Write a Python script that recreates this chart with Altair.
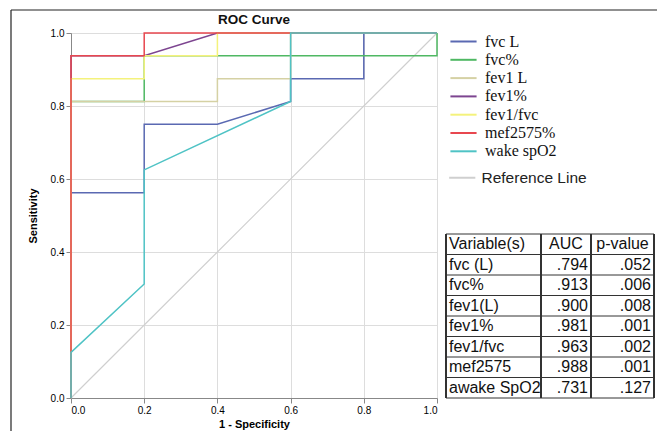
import altair as alt
import pandas as pd

# ---------------- data ----------------
chart_title = "ROC Curve"
series = ["fvc L", "fvc%", "fev1 L", "fev1%", "fev1/fvc", "mef2575%", "wake spO2"]
colors = ["#5a69b2", "#4fb863", "#d5d1a4", "#7d4590", "#f4f27c", "#e8474f", "#4fc3c5"]

fvcL_x = [0, 0, 0.2, 0.2, 0.4, 0.6, 0.6, 0.8, 0.8, 1.0]
fvcL_y = [0, 0.5625, 0.5625, 0.75, 0.75, 0.8125, 0.875, 0.875, 1.0, 1.0]
fvcp_x = [0, 0, 0.2, 0.2, 1.0, 1.0]
fvcp_y = [0, 0.8125, 0.8125, 0.9375, 0.9375, 1.0]
fev1L_x = [0, 0, 0.4, 0.4, 0.6, 0.6, 1.0]
fev1L_y = [0, 0.8125, 0.8125, 0.875, 0.875, 1.0, 1.0]
fev1p_x = [0, 0, 0.2, 0.4, 1.0]
fev1p_y = [0, 0.9375, 0.9375, 1.0, 1.0]
ratio_x = [0, 0, 0.2, 0.2, 0.4, 0.4, 1.0]
ratio_y = [0, 0.875, 0.875, 0.9375, 0.9375, 1.0, 1.0]
mef_x = [0, 0, 0.2, 0.2, 1.0]
mef_y = [0, 0.9375, 0.9375, 1.0, 1.0]
spo2_x = [0, 0, 0.2, 0.2, 0.6, 0.6, 1.0]
spo2_y = [0, 0.125, 0.3125, 0.625, 0.8125, 1.0, 1.0]

ref_x = [0, 1]
ref_y = [0, 1]

tick_values = [0.0, 0.2, 0.4, 0.6, 0.8, 1.0]

table_header = ["Variable(s)", "AUC", "p-value"]
table_vars = ["fvc (L)", "fvc%", "fev1(L)", "fev1%", "fev1/fvc", "mef2575", "awake SpO2"]
table_auc = [".794", ".913", ".900", ".981", ".963", ".988", ".731"]
table_p = [".052", ".006", ".008", ".001", ".002", ".001", ".127"]

# ---------------- frames ----------------
curves = [(fvcL_x, fvcL_y), (fvcp_x, fvcp_y), (fev1L_x, fev1L_y), (fev1p_x, fev1p_y),
          (ratio_x, ratio_y), (mef_x, mef_y), (spo2_x, spo2_y)]
rows = []
for name, (xs, ys) in zip(series, curves):
    for i, (xv, yv) in enumerate(zip(xs, ys)):
        rows.append({"series": name, "idx": i, "fpr": xv, "tpr": yv})
df = pd.DataFrame(rows)
ref_df = pd.DataFrame({"fpr": ref_x, "tpr": ref_y, "label": ["Reference Line"] * 2})

W, H = 366, 365
SANS = "Liberation Sans"
SERIF = "Liberation Serif"

# legend stroke: a custom horizontal path, long relative to its nominal symbol size
LINE_PATH = "M-6,0H6"
SYM_SIZE = 19

xscale = alt.Scale(domain=[0, 1], nice=False, zero=False)
yscale = alt.Scale(domain=[0, 1], nice=False, zero=False)

ref = alt.Chart(ref_df).mark_line(strokeWidth=1.2).encode(
    x=alt.X("fpr:Q", scale=xscale,
            axis=alt.Axis(values=tick_values, format=".1f", title="1 - Specificity",
                          titlePadding=3)),
    y=alt.Y("tpr:Q", scale=yscale,
            axis=alt.Axis(values=tick_values, format=".1f", title="Sensitivity",
                          titlePadding=12)),
    color=alt.Color("label:N",
                    scale=alt.Scale(domain=["Reference Line"], range=["#cfcfcf"]),
                    legend=alt.Legend(title=None, orient="none", legendX=383.5, legendY=137,
                                      symbolType=LINE_PATH, symbolSize=SYM_SIZE,
                                      symbolStrokeWidth=2, labelFont=SANS,
                                      labelFontSize=15.5, labelColor="#222",
                                      labelOffset=11.5, padding=0)),
)

lines = alt.Chart(df).mark_line(strokeWidth=1.5).encode(
    x=alt.X("fpr:Q", scale=xscale),
    y=alt.Y("tpr:Q", scale=yscale),
    color=alt.Color("series:N",
                    scale=alt.Scale(domain=series, range=colors),
                    sort=series,
                    legend=alt.Legend(title=None, orient="none", legendX=384.5, legendY=0.5,
                                      symbolType=LINE_PATH, symbolSize=SYM_SIZE,
                                      symbolStrokeWidth=2, labelFont=SERIF,
                                      labelFontSize=16, labelColor="#111",
                                      labelOffset=13.5, rowPadding=2.3, padding=0)),
    order="idx:Q",
)

roc = alt.layer(ref, lines).resolve_scale(color="independent")

# ---------------- table ----------------
n_rows = len(table_vars) + 1
tscale = alt.Scale(domain=[0, n_rows], range=[201, 365], nice=False, zero=False)
grid_df = pd.DataFrame({"r": list(range(n_rows + 1))})
text_df = pd.DataFrame({
    "rc": [i + 0.5 for i in range(n_rows)],
    "var": [table_header[0]] + table_vars,
    "auc": [""] + table_auc,
    "p": [""] + table_p,
})
head_df = pd.DataFrame({"rc": [0.5], "auc": [table_header[1]], "p": [table_header[2]]})

col_edges = [375, 470, 520, 583]
tcolor = "#333333"

hlines = alt.Chart(grid_df).mark_rule(color=tcolor, strokeWidth=1).encode(
    y=alt.Y("r:Q", scale=tscale, axis=None), x=alt.value(col_edges[0]), x2=alt.value(col_edges[-1]))
vlayers = [
    alt.Chart(grid_df).mark_rule(color=tcolor, strokeWidth=1).encode(
        x=alt.value(e), y=alt.value(201), y2=alt.value(365))
    for e in col_edges
]
tfont = dict(font=SANS, fontSize=16, color="#111", baseline="middle")
t_var = alt.Chart(text_df).mark_text(align="left", **tfont).encode(
    y=alt.Y("rc:Q", scale=tscale, axis=None), x=alt.value(378), text="var:N")
t_auc = alt.Chart(text_df).mark_text(align="right", **tfont).encode(
    y=alt.Y("rc:Q", scale=tscale, axis=None), x=alt.value(517), text="auc:N")
t_p = alt.Chart(text_df).mark_text(align="right", **tfont).encode(
    y=alt.Y("rc:Q", scale=tscale, axis=None), x=alt.value(580), text="p:N")
h_auc = alt.Chart(head_df).mark_text(align="center", **tfont).encode(
    y=alt.Y("rc:Q", scale=tscale, axis=None), x=alt.value(495), text="auc:N")
h_p = alt.Chart(head_df).mark_text(align="center", **tfont).encode(
    y=alt.Y("rc:Q", scale=tscale, axis=None), x=alt.value(551.5), text="p:N")

frame_df = pd.DataFrame({"k": [0]})
frame_left = alt.Chart(frame_df).mark_rule(color="#222", strokeWidth=1.2).encode(
    x=alt.value(-60), y=alt.value(-23), y2=alt.value(600))
frame_top = alt.Chart(frame_df).mark_rule(color="#222", strokeWidth=1.2).encode(
    x=alt.value(-60), x2=alt.value(800), y=alt.value(-23))

title_df = pd.DataFrame({"t": [chart_title]})
title_mark = alt.Chart(title_df).mark_text(
    font=SANS, fontSize=13.5, fontWeight="bold", color="#111",
    align="center", baseline="middle").encode(
    x=alt.value(W / 2), y=alt.value(-13), text="t:N")

table = alt.layer(hlines, *vlayers, t_var, t_auc, t_p, h_auc, h_p,
                  frame_left, frame_top, title_mark)

chart = alt.layer(roc, table).resolve_scale(y="independent").properties(
    width=W, height=H,
    autosize=alt.AutoSizeParams(type="none"),
    padding={"left": 63, "top": 25, "right": 220, "bottom": 33},
).configure_view(
    fill="#f0f0f0", stroke="#444", strokeWidth=1.2
).configure_axis(
    labelFont=SANS, labelFontSize=11, labelColor="#333",
    titleFont=SANS, titleFontSize=13, titleFontWeight="bold", titleColor="#111",
    domainColor="#444", tickColor="#444", tickSize=5, grid=False, labelPadding=2,
).configure(background="white")

chart.save("out.html", embed_options={"renderer": "svg", "actions": False})
